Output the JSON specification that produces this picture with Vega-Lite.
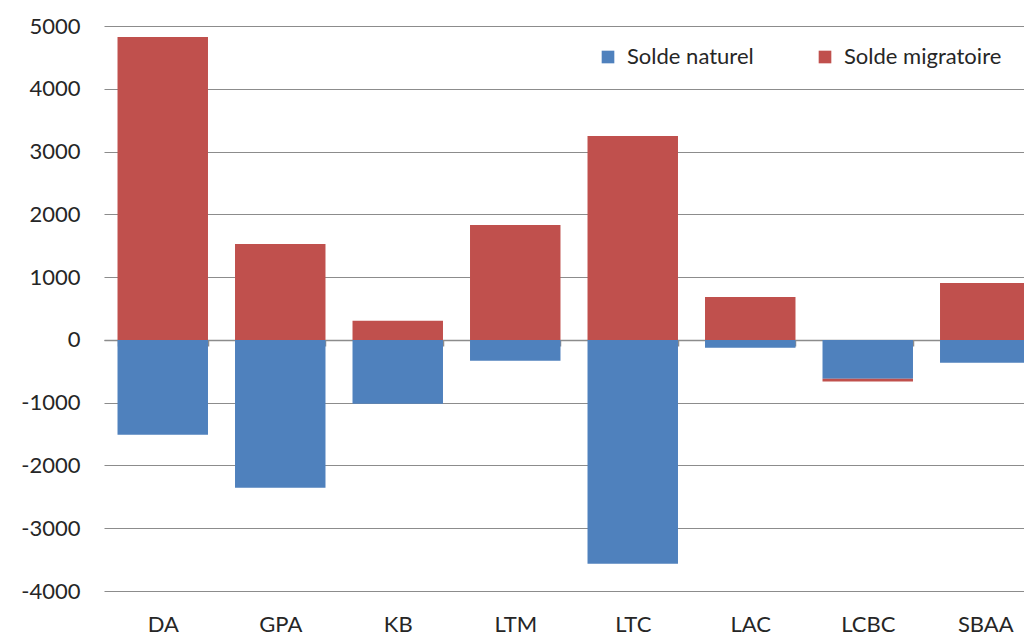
{
  "$schema": "https://vega.github.io/schema/vega-lite/v6.json",
  "autosize": "none",
  "width": 940,
  "height": 565,
  "padding": {"left": 104, "top": 26, "right": 0, "bottom": 44},
  "background": "white",
  "config": {
    "font": "Lato",
    "view": {"stroke": null}
  },
  "data": {
    "values": [
      {"zone": "DA", "serie": "Solde naturel", "ordre": 1, "valeur": -1513},
      {"zone": "DA", "serie": "Solde migratoire", "ordre": 2, "valeur": 4825},
      {"zone": "GPA", "serie": "Solde naturel", "ordre": 1, "valeur": -2357},
      {"zone": "GPA", "serie": "Solde migratoire", "ordre": 2, "valeur": 1529},
      {"zone": "KB", "serie": "Solde naturel", "ordre": 1, "valeur": -1019},
      {"zone": "KB", "serie": "Solde migratoire", "ordre": 2, "valeur": 303},
      {"zone": "LTM", "serie": "Solde naturel", "ordre": 1, "valeur": -334},
      {"zone": "LTM", "serie": "Solde migratoire", "ordre": 2, "valeur": 1831},
      {"zone": "LTC", "serie": "Solde naturel", "ordre": 1, "valeur": -3567},
      {"zone": "LTC", "serie": "Solde migratoire", "ordre": 2, "valeur": 3248},
      {"zone": "LAC", "serie": "Solde naturel", "ordre": 1, "valeur": -127},
      {"zone": "LAC", "serie": "Solde migratoire", "ordre": 2, "valeur": 685},
      {"zone": "LCBC", "serie": "Solde naturel", "ordre": 1, "valeur": -621},
      {"zone": "LCBC", "serie": "Solde migratoire", "ordre": 2, "valeur": -40},
      {"zone": "SBAA", "serie": "Solde naturel", "ordre": 1, "valeur": -366},
      {"zone": "SBAA", "serie": "Solde migratoire", "ordre": 2, "valeur": 908}
    ]
  },
  "mark": {"type": "bar"},
  "encoding": {
    "x": {
      "field": "zone",
      "type": "nominal",
      "sort": ["DA", "GPA", "KB", "LTM", "LTC", "LAC", "LCBC", "SBAA"],
      "scale": {"paddingInner": 0.23, "paddingOuter": 0.115},
      "axis": {
        "title": null,
        "labelAngle": 0,
        "offset": -251,
        "domainColor": "#8c8c8c",
        "domainWidth": 1.5,
        "tickColor": "#8c8c8c",
        "tickBand": "extent",
        "tickSize": 6,
        "tickWidth": 1.5,
        "labelPadding": 268,
        "labelFontSize": 22,
        "labelColor": "#262626",
        "labelFont": "Lato"
      }
    },
    "y": {
      "field": "valeur",
      "type": "quantitative",
      "stack": "zero",
      "scale": {"domain": [-4000, 5000], "nice": false},
      "axis": {
        "title": null,
        "values": [-4000, -3000, -2000, -1000, 0, 1000, 2000, 3000, 4000, 5000],
        "labelExpr": "toString(datum.value)",
        "domain": false,
        "ticks": false,
        "labelPadding": 24,
        "labelFontSize": 22,
        "labelColor": "#262626",
        "labelFont": "Lato",
        "gridColor": "#8c8c8c",
        "gridWidth": 1.2
      }
    },
    "color": {
      "field": "serie",
      "type": "nominal",
      "scale": {"domain": ["Solde naturel", "Solde migratoire"], "range": ["#4F81BD", "#C0504D"]},
      "legend": {
        "title": null,
        "orient": "none",
        "direction": "horizontal",
        "legendX": 493,
        "legendY": 20,
        "symbolType": "square",
        "symbolSize": 160,
        "symbolStrokeWidth": 0,
        "labelFontSize": 22,
        "labelColor": "#262626",
        "labelFont": "Lato",
        "columnPadding": 60,
        "labelOffset": 8
      }
    },
    "order": {"field": "ordre", "type": "quantitative"}
  }
}
